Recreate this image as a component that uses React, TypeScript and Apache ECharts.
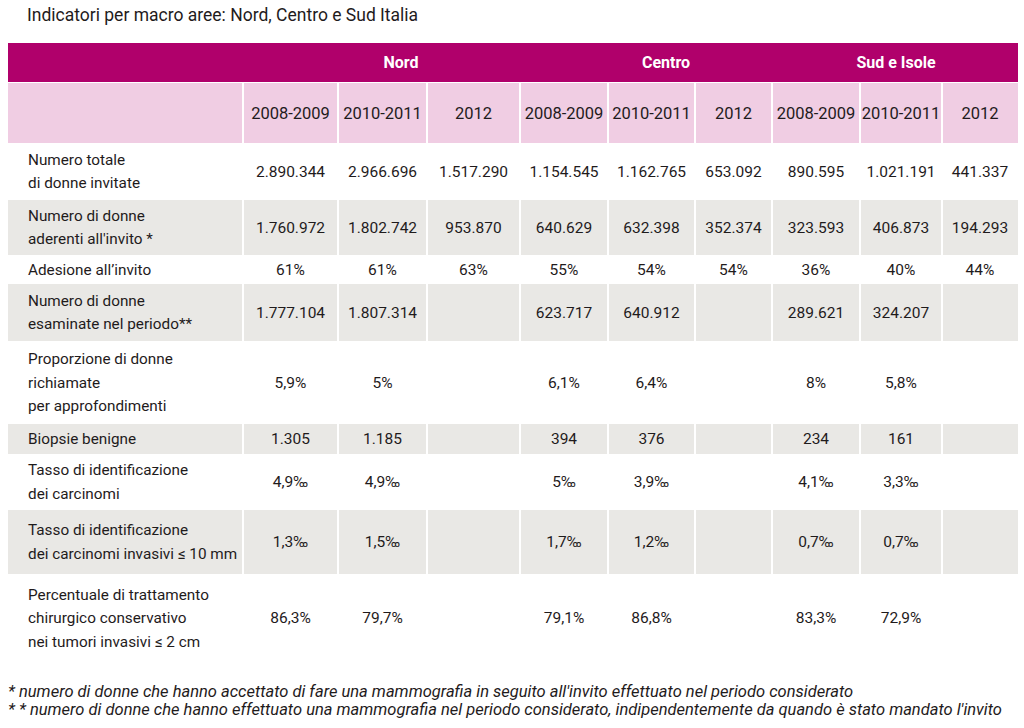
import React, { useEffect, useRef } from "react";
import * as echarts from "echarts";

// ---------- data ----------
const title = "Indicatori per macro aree: Nord, Centro e Sud Italia";
const regions = ["Nord", "Centro", "Sud e Isole"];
const periods = ["2008-2009", "2010-2011", "2012"];
const indicators = [
  "Numero totale\ndi donne invitate",
  "Numero di donne\naderenti all'invito *",
  "Adesione all’invito",
  "Numero di donne\nesaminate nel periodo**",
  "Proporzione di donne\nrichiamate\nper approfondimenti",
  "Biopsie benigne",
  "Tasso di identificazione\ndei carcinomi",
  "Tasso di identificazione\ndei carcinomi invasivi ≤ 10 mm",
  "Percentuale di trattamento\nchirurgico conservativo\nnei tumori invasivi ≤ 2 cm",
];
const nord = [
  ["2.890.344", "2.966.696", "1.517.290"],
  ["1.760.972", "1.802.742", "953.870"],
  ["61%", "61%", "63%"],
  ["1.777.104", "1.807.314", ""],
  ["5,9%", "5%", ""],
  ["1.305", "1.185", ""],
  ["4,9‰", "4,9‰", ""],
  ["1,3‰", "1,5‰", ""],
  ["86,3%", "79,7%", ""],
];
const centro = [
  ["1.154.545", "1.162.765", "653.092"],
  ["640.629", "632.398", "352.374"],
  ["55%", "54%", "54%"],
  ["623.717", "640.912", ""],
  ["6,1%", "6,4%", ""],
  ["394", "376", ""],
  ["5‰", "3,9‰", ""],
  ["1,7‰", "1,2‰", ""],
  ["79,1%", "86,8%", ""],
];
const sud = [
  ["890.595", "1.021.191", "441.337"],
  ["323.593", "406.873", "194.293"],
  ["36%", "40%", "44%"],
  ["289.621", "324.207", ""],
  ["8%", "5,8%", ""],
  ["234", "161", ""],
  ["4,1‰", "3,3‰", ""],
  ["0,7‰", "0,7‰", ""],
  ["83,3%", "72,9%", ""],
];
const footnotes = [
  "* numero di donne che hanno accettato di fare una mammografia in seguito all'invito effettuato nel periodo considerato",
  "* * numero di donne che hanno effettuato una mammografia nel periodo considerato, indipendentemente da quando è stato mandato l'invito",
];

// ---------- layout ----------
const colX = [8, 243, 338, 427, 520, 608, 695, 772, 860, 942, 1018];
const rowY = [143, 200, 255, 284, 341, 424, 454, 510, 574, 662];
const headerCenters = [401, 666, 896];
const MAGENTA = "#b0006b";
const PINK = "#f0cde3";
const GREY = "#e9e8e5";
const INK = "#1f1b1c";
const FONT = "Roboto";

export default function App() {
  const ref = useRef<HTMLDivElement>(null);
  useEffect(() => {
    const chart = echarts.init(ref.current!, null, { renderer: "svg" });
    const g: any[] = [];
    const L = colX[0];
    const R = colX[colX.length - 1];

    g.push({
      type: "text",
      style: { text: title, x: 27, y: 15, verticalAlign: "middle", fontFamily: FONT, fontSize: 17.5, fill: INK },
    });

    // header bands
    g.push({ type: "rect", shape: { x: L, y: 43, width: R - L, height: 39 }, style: { fill: MAGENTA } });
    g.push({ type: "rect", shape: { x: L, y: 83, width: R - L, height: 60 }, style: { fill: PINK } });
    regions.forEach((r, i) => {
      g.push({
        type: "text",
        style: { text: r, x: headerCenters[i], y: 62, align: "center", verticalAlign: "middle", fontFamily: FONT, fontWeight: "bold", fontSize: 16, fill: "#ffffff" },
      });
    });
    for (let c = 1; c < colX.length - 1; c++) {
      g.push({ type: "rect", shape: { x: colX[c] - 1, y: 83, width: 2, height: 60 }, style: { fill: "#ffffff" } });
    }
    const tables = [nord, centro, sud];
    for (let c = 0; c < 9; c++) {
      const cx = (colX[c + 1] + colX[c + 2]) / 2;
      g.push({
        type: "text",
        style: { text: periods[c % 3], x: cx, y: 113, align: "center", verticalAlign: "middle", fontFamily: FONT, fontSize: 16.5, fill: INK },
      });
    }

    // body rows
    indicators.forEach((lab, r) => {
      const y0 = rowY[r];
      const y1 = rowY[r + 1];
      const cy = (y0 + y1) / 2;
      if (r % 2 === 1) {
        g.push({ type: "rect", shape: { x: L, y: y0, width: R - L, height: y1 - y0 }, style: { fill: GREY } });
        for (let c = 1; c < colX.length - 1; c++) {
          g.push({ type: "rect", shape: { x: colX[c] - 1, y: y0, width: 2, height: y1 - y0 }, style: { fill: "#ffffff" } });
        }
      }
      g.push({
        type: "text",
        style: { text: lab, x: 28, y: cy, verticalAlign: "middle", lineHeight: 23.5, fontFamily: FONT, fontSize: 15.3, fill: INK },
      });
      tables.forEach((tab, ti) => {
        tab[r].forEach((v, pi) => {
          if (!v) return;
          const c = ti * 3 + pi;
          const cx = (colX[c + 1] + colX[c + 2]) / 2;
          g.push({
            type: "text",
            style: { text: v, x: cx, y: cy, align: "center", verticalAlign: "middle", fontFamily: FONT, fontSize: 15.5, fill: INK },
          });
        });
      });
    });

    footnotes.forEach((f, i) => {
      g.push({
        type: "text",
        style: { text: f, x: 8, y: 691 + i * 18, verticalAlign: "middle", fontFamily: FONT, fontStyle: "italic", fontSize: 16.5, fill: INK },
      });
    });

    chart.setOption({ animation: false, graphic: g });
    return () => chart.dispose();
  }, []);
  return <div ref={ref} style={{ position: "fixed", left: 0, top: 0, width: 1024, height: 728, background: "#fff" }} />;
}
